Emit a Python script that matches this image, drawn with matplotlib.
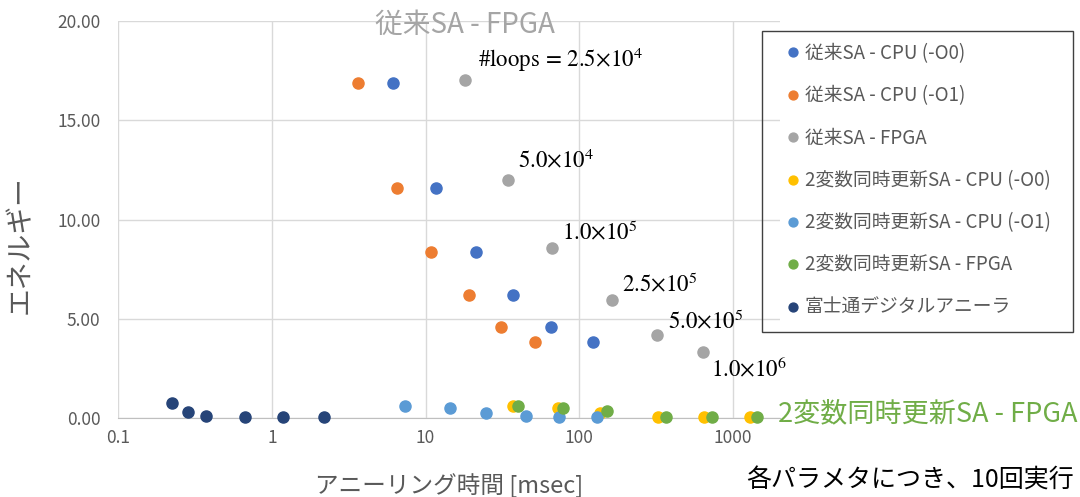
import matplotlib
matplotlib.use("Agg")
from matplotlib import pyplot as plt
from matplotlib.patches import Rectangle
from matplotlib.ticker import FixedLocator, FuncFormatter

plt.rcParams['font.family'] = ['Noto Sans CJK JP', 'DejaVu Sans']
plt.rcParams['mathtext.fontset'] = 'stix'

# annealing time [msec] and energy, 6 parameter settings per method
sa_cpu_o0_t = [6.14, 11.7, 21.3, 37.2, 65.7, 123]
sa_cpu_o0_e = [16.87, 11.57, 8.38, 6.21, 4.60, 3.84]
sa_cpu_o1_t = [3.63, 6.52, 10.9, 19.2, 31.0, 51.7]
sa_cpu_o1_e = [16.87, 11.57, 8.38, 6.21, 4.60, 3.84]
sa_fpga_t = [18.1, 34.5, 66.7, 164, 322, 643]
sa_fpga_e = [17.02, 11.97, 8.54, 5.96, 4.19, 3.33]
sa2_cpu_o0_t = [37, 73.3, 137, 327, 649, 1288]
sa2_cpu_o0_e = [0.62, 0.49, 0.24, 0.05, 0.05, 0.05]
sa2_cpu_o1_t = [7.39, 14.4, 24.8, 45.1, 74.1, 130]
sa2_cpu_o1_e = [0.60, 0.49, 0.24, 0.12, 0.05, 0.05]
sa2_fpga_t = [40.1, 79.0, 151, 369, 733, 1449]
sa2_fpga_e = [0.62, 0.49, 0.35, 0.05, 0.05, 0.05]
da_t = [0.222, 0.282, 0.372, 0.664, 1.18, 2.17]
da_e = [0.73, 0.30, 0.12, 0.05, 0.05, 0.05]

loop_labels = [r'$\#\mathrm{loops}\,=\,2.5{\times}10^{4}$', r'$5.0{\times}10^{4}$',
               r'$1.0{\times}10^{5}$', r'$2.5{\times}10^{5}$',
               r'$5.0{\times}10^{5}$', r'$1.0{\times}10^{6}$']
loop_offsets = [(13, 20), (10, 20), (10, 15), (10, 14), (11, 12), (8, -17)]

series = [
    (sa_cpu_o0_t, sa_cpu_o0_e, '#4472C4', '従来SA - CPU (-O0)'),
    (sa_cpu_o1_t, sa_cpu_o1_e, '#ED7D31', '従来SA - CPU (-O1)'),
    (sa_fpga_t, sa_fpga_e, '#A5A5A5', '従来SA - FPGA'),
    (sa2_cpu_o0_t, sa2_cpu_o0_e, '#FFC000', '2変数同時更新SA - CPU (-O0)'),
    (sa2_cpu_o1_t, sa2_cpu_o1_e, '#5B9BD5', '2変数同時更新SA - CPU (-O1)'),
    (sa2_fpga_t, sa2_fpga_e, '#70AD47', '2変数同時更新SA - FPGA'),
    (da_t, da_e, '#264478', '富士通デジタルアニーラ'),
]

txt = '#595959'
W, H = 1080, 497
fig = plt.figure(figsize=(10.8, 4.97), dpi=100)
ax = fig.add_axes([0.1097, 0.159, 0.6125, 0.7987])

for t, e, c, name in series:
    ax.plot(t, e, 'o', ms=8, color=c, mec=c, label=name, clip_on=False, zorder=3)

for (x, y), s, off in zip(zip(sa_fpga_t, sa_fpga_e), loop_labels, loop_offsets):
    ax.annotate(s, (x, y), xytext=off, textcoords='offset pixels',
                fontsize=16.5, color='black', va='center', ha='left')

ax.set_xscale('log')
ax.set_xlim(0.1, 2030)
ax.set_ylim(0, 20)
ax.xaxis.set_major_locator(FixedLocator([0.1, 1, 10, 100, 1000]))
ax.xaxis.set_minor_locator(FixedLocator([]))
ax.xaxis.set_major_formatter(FuncFormatter(lambda v, p: '%g' % v))
ax.set_yticks([0, 5, 10, 15, 20])
ax.yaxis.set_major_formatter(FuncFormatter(lambda v, p: '%.2f' % v))
ax.tick_params(length=0, labelsize=12.5, colors=txt)
ax.tick_params(axis='y', pad=13)
ax.tick_params(axis='x', pad=8)
ax.grid(True, color='#D9D9D9', lw=1)
ax.set_axisbelow(True)
for s in ['top', 'right', 'left']:
    ax.spines[s].set_visible(False)
ax.spines['bottom'].set_color('#BFBFBF')

fig.text(0.018, 0.507, 'エネルギー', rotation=90, ha='center', va='center',
         fontsize=20, color=txt)
fig.text(0.4155, 0.024, 'アニーリング時間 [msec]', ha='center', va='center',
         fontsize=17, color=txt)
fig.text(0.4306, 0.95, '従来SA - FPGA', ha='center', va='center',
         fontsize=20, color='#A5A5A5')
fig.text(0.8588, 0.167, '2変数同時更新SA - FPGA', ha='center', va='center',
         fontsize=19.5, color='#70AD47')
fig.text(0.8426, 0.034, '各パラメタにつき、10回実行', ha='center', va='center',
         fontsize=18, color='black')

# legend box drawn separately, legend entries placed inside it
fig.patches.append(Rectangle((762 / W, 1 - 332 / H), 311 / W, 301 / H,
                             transform=fig.transFigure, fill=False,
                             ec='#404040', lw=1, zorder=5))
ax.legend(loc='upper left', bbox_to_anchor=(788 / W, 1 - 43 / H),
          bbox_transform=fig.transFigure, fontsize=13.5, labelcolor=txt,
          frameon=False, handlelength=0.5, handletextpad=0.39,
          labelspacing=1.14, borderpad=0, markerscale=0.8, borderaxespad=0)

fig.savefig('out.png', dpi=100)
